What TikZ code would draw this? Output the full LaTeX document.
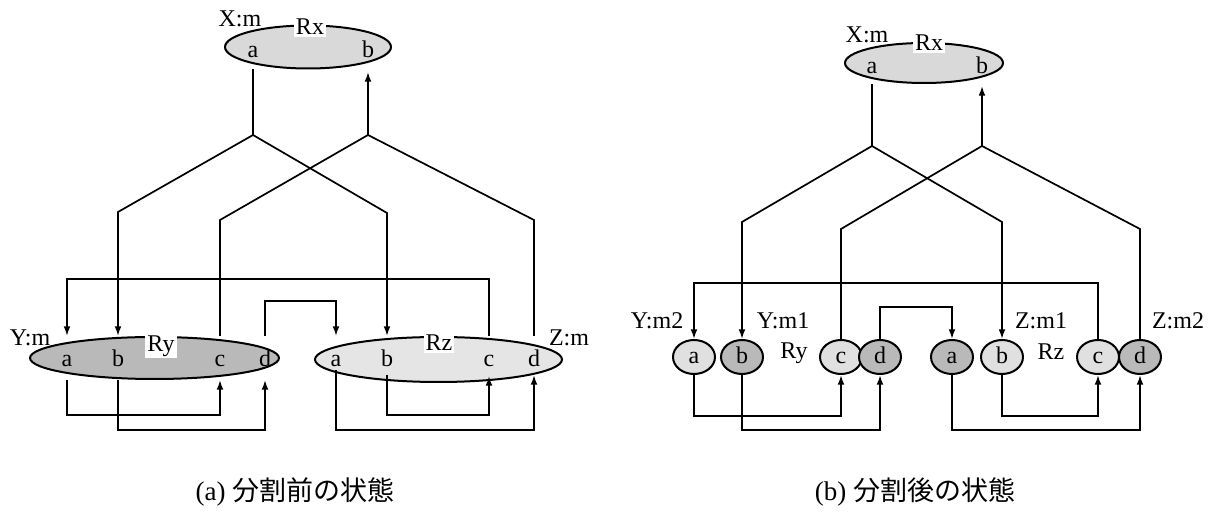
\documentclass[tikz,border=0pt]{standalone}
\usepackage{fontspec}
\setmainfont{Liberation Serif}
\newfontfamily\jpfont{Noto Sans CJK JP}
\usetikzlibrary{shapes.geometric,arrows.meta}

\tikzset{
  conn/.style={line width=0.85pt},
  tip/.style={-{Latex[length=4.8pt,width=3.4pt]}},
  lbl/.style={font=\fontsize{12}{14}\selectfont, inner sep=0.5pt},
  tag/.style={lbl, fill=white, inner sep=1pt},
  letter/.style={lbl, text height=1.45ex, text depth=0pt},
  relell/.style={ellipse, draw, line width=1pt, inner sep=0pt},
  lightell/.style={relell, fill=gray!30},
  paleell/.style={relell, fill=gray!20},
  darkell/.style={relell, fill=gray!55},
  lightatt/.style={relell, fill=gray!24, minimum width=21pt, minimum height=17pt,
    font=\fontsize{12}{14}\selectfont, text height=1.45ex, text depth=0pt},
  darkatt/.style={lightatt, fill=gray!55},
  captext/.style={font=\fontsize{13.5}{16}\selectfont}
}

\begin{document}
\begin{tikzpicture}[x=0.5pt,y=-0.5pt]
  \useasboundingbox (0,0) rectangle (1211,512);

  %----- (a) BEFORE SPLIT -----
  \node[lightell, minimum width=83pt, minimum height=21.5pt] (lrx) at (308,47) {};
  \node[darkell, minimum width=124.5pt, minimum height=21pt] (lry) at (154.5,358) {};
  \node[paleell, minimum width=123.5pt, minimum height=22.5pt] (lrz) at (438.5,359.5) {};

  \node[tag] (lrxt) at (310,27) {Rx};
  \node[tag] (lryt) at (161,346) {Ry};
  \node[tag] (lrzt) at (439,343) {Rz};
  \node[lbl] (lxm) at (240,19) {X:m};
  \node[lbl] (lym) at (30,338) {Y:m};
  \node[lbl] (lzm) at (569,338) {Z:m};

  \node[letter] (lxa) at (253,51) {a};
  \node[letter] (lxb) at (368,51) {b};
  \node[letter] (lya) at (67,360) {a};
  \node[letter] (lyb) at (118,360) {b};
  \node[letter] (lyc) at (220,360) {c};
  \node[letter] (lyd) at (265,360) {d};
  \node[letter] (lza) at (336,360) {a};
  \node[letter] (lzb) at (387,360) {b};
  \node[letter] (lzc) at (489,360) {c};
  \node[letter] (lzd) at (534,360) {d};

  \coordinate (lja) at (253,135);
  \coordinate (ljb) at (368,135);

  % crossing links between Rx and Ry, Rz
  \draw[conn] (lrx.south -| lja) -- (lja);
  \draw[conn,tip] (lja) -- (lyb |- 0,212) -- (lry.north -| lyb);
  \draw[conn,tip] (lja) -- (lzb |- 0,213) -- (lrz.north -| lzb);
  \draw[conn,tip] (ljb) -- (ljb |- 0,72);
  \draw[conn] (ljb) -- (lyc |- 0,220) -- (lry.north -| lyc);
  \draw[conn] (ljb) -- (lzd |- 0,220) -- (lrz.north -| lzd);

  % links between Ry and Rz
  \draw[conn,tip] (lrz.north -| lzc) -- (lzc |- 0,279) -| (lry.north -| lya);
  \draw[conn,tip] (lry.north -| lyd) -- (lyd |- 0,301) -| (lrz.north -| lza);

  % links inside Ry and Rz
  \draw[conn,tip] (lry.south -| lya) -- (lya |- 0,415) -| (lry.south -| lyc);
  \draw[conn,tip] (lry.south -| lyb) -- (lyb |- 0,430) -| (lry.south -| lyd);
  \draw[conn,tip] (lzb |- 0,375) -- (lzb |- 0,415) -| (lzc |- 0,376);
  \draw[conn,tip] (lza |- 0,370) -- (lza |- 0,430) -| (lzd |- 0,375);

  \node[captext] (capa) at (295,492) {(a) {\jpfont 分割前の状態}};

  %----- (b) AFTER SPLIT -----
  \node[lightell, minimum width=79pt, minimum height=20pt] (rrx) at (924,63) {};
  \node[tag] (rrxt) at (929,43) {Rx};
  \node[lbl] (rxm) at (867,35) {X:m};
  \node[letter] (rxa) at (872,67) {a};
  \node[letter] (rxb) at (982,67) {b};

  \node[lightatt] (ya) at (694,357) {a};
  \node[darkatt]  (yb) at (742,357) {b};
  \node[lightatt] (yc) at (841,357) {c};
  \node[darkatt]  (yd) at (880,357) {d};
  \node[darkatt]  (za) at (952,357) {a};
  \node[lightatt] (zb) at (1002,357) {b};
  \node[lightatt] (zc) at (1098,357) {c};
  \node[darkatt]  (zd) at (1140,357) {d};

  \node[lbl] (ryt) at (794,353) {Ry};
  \node[lbl] (rzt) at (1051,352) {Rz};
  \node[lbl] (ym2) at (657,321) {Y:m2};
  \node[lbl] (ym1) at (783,321) {Y:m1};
  \node[lbl] (zm1) at (1041,321) {Z:m1};
  \node[lbl] (zm2) at (1178,321) {Z:m2};

  \coordinate (rja) at (872,146);
  \coordinate (rjb) at (982,146);

  % crossing links between Rx and the fragments
  \draw[conn] (rrx.south -| rja) -- (rja);
  \draw[conn,tip] (rja) -- (yb |- 0,222) -- (yb.north);
  \draw[conn,tip] (rja) -- (zb |- 0,222) -- (zb.north);
  \draw[conn,tip] (rjb) -- (rjb |- 0,86);
  \draw[conn] (rjb) -- (yc |- 0,229) -- (yc.north);
  \draw[conn] (rjb) -- (zd |- 0,229) -- (zd.north);

  % links between the fragments
  \draw[conn,tip] (zc.north) -- (zc |- 0,283) -| (ya.north);
  \draw[conn,tip] (yd.north) -- (yd |- 0,307) -| (za.north);
  \draw[conn,tip] (ya.south) -- (ya |- 0,416) -| (yc.south);
  \draw[conn,tip] (yb.south) -- (yb |- 0,430) -| (yd.south);
  \draw[conn,tip] (zb.south) -- (zb |- 0,416) -| (zc.south);
  \draw[conn,tip] (za.south) -- (za |- 0,430) -| (zd.south);

  \node[captext] (capb) at (915,492) {(b) {\jpfont 分割後の状態}};

\end{tikzpicture}
\end{document}
